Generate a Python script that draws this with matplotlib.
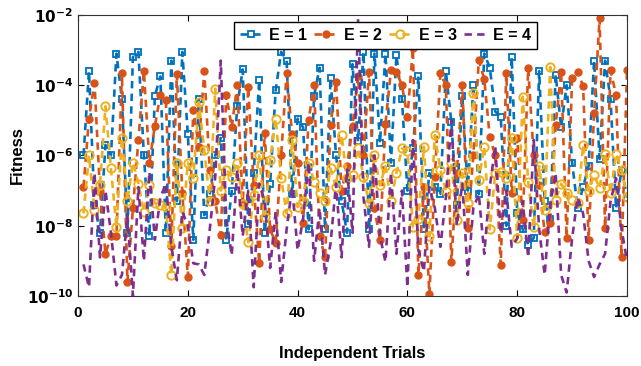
import numpy as np
import matplotlib
matplotlib.use('Agg')
import matplotlib.pyplot as plt

# log10 of fitness for each of the 100 trials
trials = np.arange(1, 101)

e1_log = [-6.0, -3.6, -7.4, -8.2, -5.7, -6.0, -3.1, -4.4, -8.2, -3.2,
          -3.05, -6.0, -8.3, -4.3, -3.75, -8.2, -3.3, -7.3, -3.05, -5.4,
          -8.4, -4.4, -7.7, -7.1, -6.0, -5.5, -8.4, -7.0, -4.6, -3.55,
          -7.95, -6.5, -3.85, -8.2, -6.8, -4.15, -3.05, -3.3, -7.1, -4.95,
          -5.2, -8.1, -4.3, -3.5, -8.1, -3.8, -6.0, -7.3, -8.2, -3.4,
          -5.6, -3.05, -8.1, -3.1, -5.65, -3.1, -6.2, -3.15, -4.4, -7.0,
          -5.8, -3.75, -8.1, -6.5, -6.9, -7.1, -3.6, -5.05, -7.4, -4.3,
          -7.0, -4.0, -7.1, -3.1, -3.5, -4.75, -4.9, -8.0, -3.2, -7.65,
          -8.1, -8.55, -8.35, -3.6, -7.3, -7.8, -3.7, -5.2, -4.0, -6.2,
          -7.5, -6.9, -6.3, -3.3, -6.1, -3.3, -4.4, -7.5, -6.4, -7.2]

e2_log = [-6.9, -4.95, -3.93, -7.0, -8.8, -8.3, -8.3, -3.66, -9.6, -7.5,
          -5.56, -3.6, -6.2, -5.16, -4.28, -4.42, -8.58, -3.68, -7.07, -9.46,
          -4.7, -5.75, -3.6, -6.4, -7.3, -8.27, -4.28, -5.2, -4.0, -7.36,
          -4.05, -6.85, -9.07, -5.36, -8.1, -8.5, -6.0, -3.65, -5.4, -6.2,
          -7.93, -5.0, -4.0, -8.3, -8.9, -5.13, -3.9, -7.0, -6.3, -5.16,
          -3.74, -6.0, -3.62, -7.5, -8.4, -5.1, -3.57, -3.62, -4.0, -4.9,
          -2.95, -9.4, -6.9, -9.95, -6.6, -3.66, -4.0, -9.03, -6.5, -4.0,
          -8.07, -6.0, -3.28, -3.83, -5.47, -6.0, -9.12, -3.66, -7.07, -5.5,
          -7.85, -3.52, -6.0, -6.85, -8.18, -7.93, -5.13, -3.62, -8.36, -3.8,
          -3.62, -4.02, -8.4, -4.8, -2.1, -8.07, -3.57, -4.28, -8.9, -3.57]

e3_log = [-7.65, -6.0, -7.54, -6.85, -4.6, -6.37, -8.04, -5.5, -7.3, -6.2,
          -6.8, -7.6, -6.85, -7.36, -7.4, -7.47, -9.4, -6.2, -8.07, -6.2,
          -6.65, -4.48, -5.85, -7.3, -4.1, -7.0, -6.4, -6.6, -6.2, -7.37,
          -8.47, -7.13, -6.0, -7.75, -6.13, -4.95, -6.65, -7.65, -5.56, -7.47,
          -7.3, -6.2, -6.75, -7.07, -7.3, -6.37, -6.9, -5.42, -6.65, -6.56,
          -5.8, -6.6, -7.36, -6.0, -6.85, -6.3, -7.3, -6.5, -5.8, -5.87,
          -8.04, -7.8, -5.75, -8.3, -5.42, -6.4, -7.0, -6.2, -7.85, -6.5,
          -7.36, -4.23, -6.7, -5.75, -8.1, -6.5, -6.47, -6.65, -5.5, -8.36,
          -4.33, -6.75, -8.04, -6.3, -7.55, -3.48, -7.27, -6.8, -7.07, -7.27,
          -7.36, -5.7, -7.0, -6.56, -6.93, -5.96, -7.07, -5.96, -6.4, -7.18]

e4_log = [-9.1, -9.75, -6.5, -8.9, -7.0, -8.2, -9.7, -9.4, -7.7, -10.0,
          -6.9, -9.0, -6.47, -8.4, -7.2, -6.8, -8.6, -9.55, -7.6, -8.0,
          -9.07, -9.1, -9.4, -8.1, -6.6, -3.3, -7.8, -8.84, -6.4, -8.3,
          -7.0, -9.75, -6.8, -7.3, -9.2, -7.6, -9.6, -8.1, -6.9, -8.7,
          -7.8, -6.2, -9.0, -7.5, -9.4, -8.5, -6.8, -8.9, -6.4, -8.2,
          -2.1, -7.2, -8.6, -6.0, -8.3, -9.03, -6.5, -8.8, -7.0, -9.75,
          -5.56, -8.7, -9.3, -6.9, -7.5, -8.6, -7.2, -5.0, -8.0, -6.8,
          -9.4, -7.5, -7.1, -8.8, -6.9, -5.75, -8.2, -7.0, -8.6, -8.36,
          -7.3, -8.9, -5.56, -8.1, -9.4, -7.4, -6.5, -9.4, -9.9, -8.36,
          -7.2, -7.65, -9.0, -9.46, -9.1, -8.8, -7.3, -6.65, -8.1, -9.0]

labels = ['E = 1', 'E = 2', 'E = 3', 'E = 4']
colors = ['#0072BD', '#D95319', '#EDB120', '#7E2F8E']

plt.rcParams['font.family'] = ['Liberation Sans', 'DejaVu Sans']
plt.rcParams['font.weight'] = 'bold'

fig = plt.figure(figsize=(6.41, 3.66), dpi=100)
ax = fig.add_axes([0.1217, 0.1913, 0.8565, 0.7678])

dash = (2.8, 2.0)
ax.plot(trials, 10.0 ** np.array(e1_log), '--', color=colors[0], lw=1.9, dashes=dash,
        marker='s', ms=5, mfc='none', mew=1.3, label=labels[0])
ax.plot(trials, 10.0 ** np.array(e2_log), '--', color=colors[1], lw=1.9, dashes=dash,
        marker='o', ms=5, mfc=colors[1], mew=1.0, label=labels[1])
ax.plot(trials, 10.0 ** np.array(e3_log), '--', color=colors[2], lw=1.9, dashes=dash,
        marker='o', ms=6, mfc='none', mew=1.4, label=labels[2])
ax.plot(trials, 10.0 ** np.array(e4_log), '--', color=colors[3], lw=1.9, dashes=dash,
        label=labels[3])

ax.set_yscale('log')
ax.set_xlim(0, 100)
ax.set_ylim(1e-10, 1e-2)
ax.set_xticks([0, 20, 40, 60, 80, 100])
yt = [1e-10, 1e-8, 1e-6, 1e-4, 1e-2]
ax.set_yticks(yt)
ax.set_yticklabels([r'$\mathbf{10^{-%d}}$' % k for k in [10, 8, 6, 4, 2]])
ax.yaxis.set_minor_locator(matplotlib.ticker.NullLocator())
ax.tick_params(direction='in', top=True, right=True, labelsize=11, length=4)
ax.tick_params(axis='x', pad=7)
for lab in ax.get_xticklabels():
    lab.set_fontweight('bold')
for s in ax.spines.values():
    s.set_color('#333333')

ax.set_xlabel('Independent Trials', fontsize=12, fontweight='bold', labelpad=19)
ax.set_ylabel('Fitness', fontsize=12, fontweight='bold', labelpad=1)

leg = ax.legend(loc='upper center', bbox_to_anchor=(0.56, 0.985), ncol=4,
                fontsize=11.5, frameon=True, fancybox=False, handlelength=1.4,
                handletextpad=0.45, columnspacing=0.45, borderpad=0.35,
                borderaxespad=0.2)
leg.get_frame().set_edgecolor('black')
leg.get_frame().set_linewidth(1.0)
leg.get_frame().set_alpha(1.0)

fig.savefig('out.png', dpi=100)
